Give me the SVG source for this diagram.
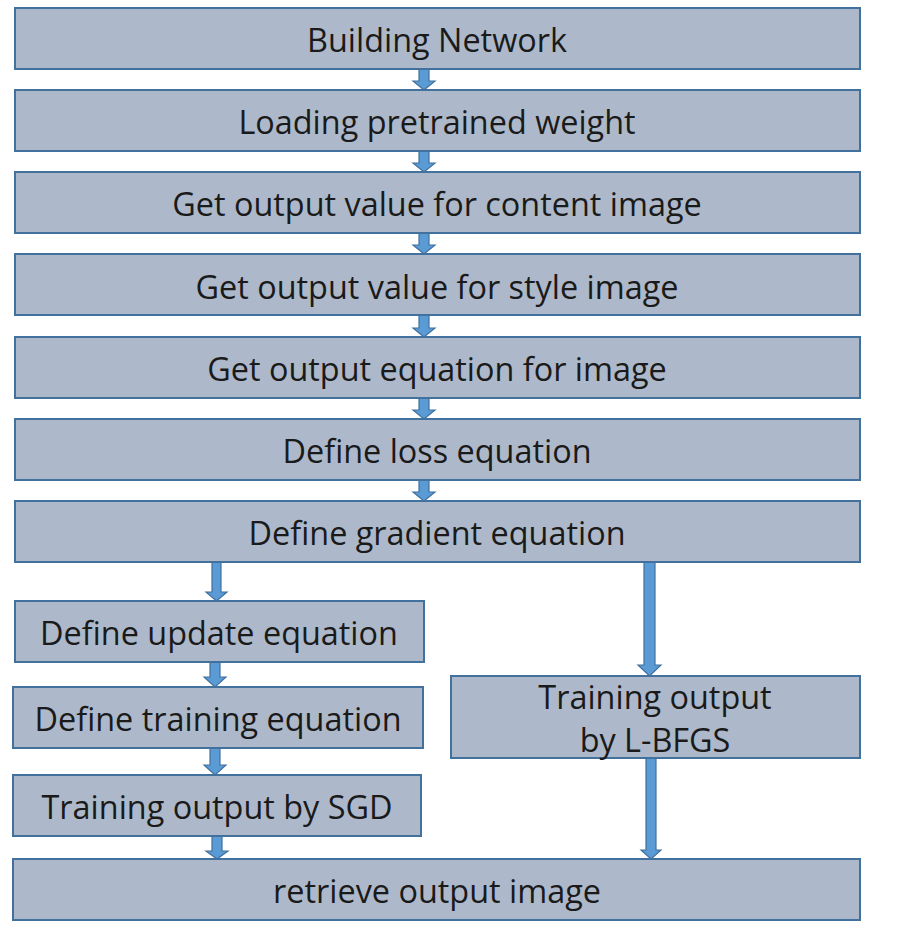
<svg xmlns="http://www.w3.org/2000/svg" width="906" height="937" viewBox="0 0 906 937">
<style>
.box{fill:#adb9ca;stroke:#41719c;stroke-width:2}
.arr{fill:#5b9bd5;stroke:#41719c;stroke-width:1.2}
text{font-family:"Open Sans","Noto Sans",sans-serif;font-size:32.4px;fill:#1a1a1a;text-anchor:middle;dominant-baseline:central}
</style>
<rect width="906" height="937" fill="#ffffff"/>
<g id="connectors">
<polygon class="arr" points="419,69 429,69 429,81 435,81 424,90 413,81 419,81"/>
<polygon class="arr" points="419,151 429,151 429,163 435,163 424,172 413,163 419,163"/>
<polygon class="arr" points="419,233 429,233 429,245 435,245 424,254 413,245 419,245"/>
<polygon class="arr" points="419,315 429,315 429,328 435,328 424,337 413,328 419,328"/>
<polygon class="arr" points="419,398 429,398 429,410 435,410 424,419 413,410 419,410"/>
<polygon class="arr" points="419,480 429,480 429,492 435,492 424,501 413,492 419,492"/>
<polygon class="arr" points="212,562 221,562 221,592 227,592 216.5,601 206,592 212,592"/>
<polygon class="arr" points="644,562 655,562 655,665 661,665 649.5,676 638,665 644,665"/>
<polygon class="arr" points="210,662 220,662 220,677 226,677 215,687 204,677 210,677"/>
<polygon class="arr" points="210,748 220,748 220,765 226,765 215,775 204,765 210,765"/>
<polygon class="arr" points="212,836 222,836 222,851 228,851 217,859 206,851 212,851"/>
<polygon class="arr" points="646,758 656,758 656,850 661,850 651,859 641,850 646,850"/>
</g>
<g id="n1"><rect class="box" x="15" y="8" width="845" height="61"/><text x="437" y="39">Building Network</text></g>
<g id="n2"><rect class="box" x="15" y="90" width="845" height="61"/><text x="437" y="121">Loading pretrained weight</text></g>
<g id="n3"><rect class="box" x="15" y="172" width="845" height="61"/><text x="437" y="203">Get output value for content image</text></g>
<g id="n4"><rect class="box" x="15" y="254" width="845" height="61"/><text x="437" y="286">Get output value for style image</text></g>
<g id="n5"><rect class="box" x="15" y="337" width="845" height="61"/><text x="437" y="368">Get output equation for image</text></g>
<g id="n6"><rect class="box" x="15" y="419" width="845" height="61"/><text x="437" y="450">Define loss equation</text></g>
<g id="n7"><rect class="box" x="15" y="501" width="845" height="61"/><text x="437" y="532">Define gradient equation</text></g>
<g id="n8"><rect class="box" x="15" y="601" width="409" height="61"/><text x="219" y="632">Define update equation</text></g>
<g id="n9"><rect class="box" x="13" y="687" width="410" height="61"/><text x="218" y="718">Define training equation</text></g>
<g id="n10"><rect class="box" x="13" y="775" width="408" height="61"/><text x="217" y="806">Training output by SGD</text></g>
<g id="n11"><rect class="box" x="451" y="676" width="409" height="82"/><text x="655" y="696">Training output</text><text x="655" y="739">by L-BFGS</text></g>
<g id="n12"><rect class="box" x="13" y="859" width="847" height="61"/><text x="437" y="890">retrieve output image</text></g>
</svg>
